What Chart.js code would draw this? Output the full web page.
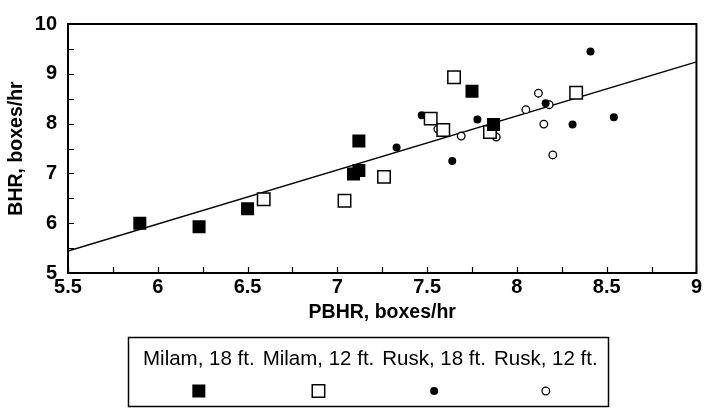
<!DOCTYPE html>
<html>
<head>
<meta charset="utf-8">
<title>BHR vs PBHR</title>
<script src="https://cdn.jsdelivr.net/npm/chart.js@4.4.1/dist/chart.umd.min.js"></script>
<style>
  html, body { margin: 0; padding: 0; background: #fff; }
</style>
</head>
<body>
<canvas id="chart" width="704" height="412"></canvas>
<script>
const FONT = "'Liberation Sans', Arial, sans-serif";

// series values (x = PBHR, y = BHR)
const milam18X = [5.90, 6.23, 6.50, 7.09, 7.12, 7.12, 7.75, 7.87];
const milam18Y = [6.00, 5.93, 6.29, 6.99, 7.06, 7.65, 8.65, 7.98];

const milam12X = [6.59, 7.04, 7.26, 7.52, 7.59, 7.65, 7.85, 8.33];
const milam12Y = [6.48, 6.45, 6.93, 8.10, 7.87, 8.93, 7.83, 8.62];

const rusk18X = [7.33, 7.47, 7.64, 7.78, 8.16, 8.31, 8.41, 8.54];
const rusk18Y = [7.52, 8.17, 7.25, 8.08, 8.41, 7.98, 9.45, 8.13];

const rusk12X = [7.56, 7.69, 7.885, 8.05, 8.12, 8.15, 8.18, 8.20];
const rusk12Y = [7.89, 7.75, 7.73, 8.28, 8.61, 7.99, 8.38, 7.37];

// fitted regression line end points
const fitX = [5.5, 9];
const fitY = [5.44, 9.24];

const seriesNames = ["Milam, 18 ft.", "Milam, 12 ft.", "Rusk, 18 ft.", "Rusk, 12 ft."];

const xTicks = [5.5, 6, 6.5, 7, 7.5, 8, 8.5, 9];
const yTicks = [5, 6, 7, 8, 9, 10];

const toPoints = (xs, ys) => xs.map((x, i) => ({ x: x, y: ys[i] }));

// inward tick marks and the box round the plot
const axisFrame = {
    id: "axisFrame",
    afterDatasetsDraw(chart) {
        const { ctx, chartArea: a, scales: { x, y } } = chart;
        ctx.save();
        ctx.strokeStyle = "#000";
        ctx.lineWidth = 1.2;
        ctx.beginPath();
        for (let v = x.min; v <= x.max + 1e-9; v += 0.25) {
            const px = Math.round(x.getPixelForValue(v)) + 0.5;
            ctx.moveTo(px, a.bottom);
            ctx.lineTo(px, a.bottom - 6);
        }
        for (let v = y.min; v <= y.max + 1e-9; v += 0.5) {
            const py = Math.round(y.getPixelForValue(v)) + 0.5;
            ctx.moveTo(a.left, py);
            ctx.lineTo(a.left + 6, py);
        }
        ctx.stroke();
        ctx.lineWidth = 2;
        ctx.strokeRect(a.left, a.top, a.right - a.left, a.bottom - a.top);
        ctx.restore();
    }
};

// boxed legend: names in a row, markers centred under them
const legendBox = {
    id: "legendBox",
    afterDraw(chart) {
        const ctx = chart.ctx;
        ctx.save();
        ctx.strokeStyle = "#000";
        ctx.lineWidth = 1.5;
        ctx.strokeRect(128.5, 337.5, 480, 69);
        ctx.font = "20.5px " + FONT;
        ctx.textBaseline = "middle";
        ctx.textAlign = "left";
        let x = 143;
        chart.data.datasets.forEach((ds) => {
            if (!ds.label) return;
            const w = ctx.measureText(ds.label).width;
            ctx.fillStyle = "#000";
            ctx.fillText(ds.label, x, 359);
            ctx.fillStyle = ds.backgroundColor;
            ctx.strokeStyle = ds.borderColor;
            ctx.lineWidth = ds.borderWidth;
            Chart.helpers.drawPoint(ctx, {
                pointStyle: ds.pointStyle,
                radius: ds.pointRadius,
                rotation: 0,
                borderWidth: ds.borderWidth
            }, x + w / 2, 391);
            x += w + 8;
        });
        ctx.restore();
    }
};

const ctx = document.getElementById("chart").getContext("2d");

new Chart(ctx, {
    type: "scatter",
    data: {
        datasets: [
            {
                label: seriesNames[0],
                data: toPoints(milam18X, milam18Y),
                pointStyle: "rect",
                pointRadius: 9.2,
                backgroundColor: "#000",
                borderColor: "#000",
                borderWidth: 0
            },
            {
                label: seriesNames[1],
                data: toPoints(milam12X, milam12Y),
                pointStyle: "rect",
                pointRadius: 8.8,
                backgroundColor: "#fff",
                borderColor: "#000",
                borderWidth: 1.5
            },
            {
                label: seriesNames[2],
                data: toPoints(rusk18X, rusk18Y),
                pointStyle: "circle",
                pointRadius: 4,
                backgroundColor: "#000",
                borderColor: "#000",
                borderWidth: 0
            },
            {
                label: seriesNames[3],
                data: toPoints(rusk12X, rusk12Y),
                pointStyle: "circle",
                pointRadius: 3.8,
                backgroundColor: "#fff",
                borderColor: "#000",
                borderWidth: 1.3
            },
            {
                type: "line",
                label: "",
                data: toPoints(fitX, fitY),
                borderColor: "#000",
                borderWidth: 1.5,
                pointRadius: 0,
                fill: false,
                order: 10
            }
        ]
    },
    options: {
        responsive: false,
        animation: false,
        events: [],
        layout: {
            autoPadding: false,
            padding: { left: 0, right: 5, top: 24, bottom: 87 }
        },
        plugins: {
            legend: { display: false },
            tooltip: { enabled: false }
        },
        scales: {
            x: {
                type: "linear",
                min: 5.5,
                max: 9,
                afterBuildTicks: (scale) => {
                    scale.ticks = xTicks.map((v) => ({ value: v }));
                },
                afterFit: (scale) => { scale.height = 52; },
                grid: { display: false, drawTicks: false },
                border: { display: false },
                ticks: {
                    color: "#000",
                    padding: 2,
                    maxRotation: 0,
                    font: { family: FONT, size: 20, weight: "bold" },
                    callback: (v) => String(v)
                },
                title: {
                    display: true,
                    text: "PBHR, boxes/hr",
                    color: "#000",
                    padding: { top: 0, bottom: 1 },
                    font: { family: FONT, size: 19.5, weight: "bold" }
                }
            },
            y: {
                type: "linear",
                min: 5,
                max: 10,
                afterBuildTicks: (scale) => {
                    scale.ticks = yTicks.map((v) => ({ value: v }));
                },
                afterFit: (scale) => { scale.width = 68; },
                grid: { display: false, drawTicks: false },
                border: { display: false },
                ticks: {
                    color: "#000",
                    padding: 11,
                    font: { family: FONT, size: 20, weight: "bold" },
                    callback: (v) => String(v)
                },
                title: {
                    display: true,
                    text: "BHR, boxes/hr",
                    color: "#000",
                    padding: { top: 5, bottom: 0 },
                    font: { family: FONT, size: 19.5, weight: "bold" }
                }
            }
        }
    },
    plugins: [axisFrame, legendBox]
});
</script>
</body>
</html>
